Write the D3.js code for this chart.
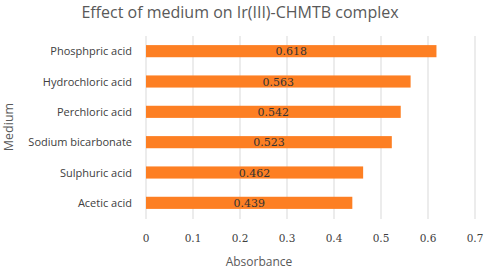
<!DOCTYPE html>
<html>
<head>
<meta charset="utf-8">
<script src="https://d3js.org/d3.v7.min.js"></script>
<style>
  body { margin: 0; background: #fff; }
  svg { display: block; }
</style>
</head>
<body>
<div id="chart"></div>
<script>
// data
const media = ["Phosphpric acid", "Hydrochloric acid", "Perchloric acid",
               "Sodium bicarbonate", "Sulphuric acid", "Acetic acid"];
const absorbance = [0.618, 0.563, 0.542, 0.523, 0.462, 0.439];
const xTicks = [0, 0.1, 0.2, 0.3, 0.4, 0.5, 0.6, 0.7];

const W = 484, H = 272;
const svg = d3.select("#chart").append("svg")
    .attr("width", W).attr("height", H);

const x = d3.scaleLinear().domain([0, 0.7]).range([146, 475]);
const y = d3.scaleBand().domain(media).range([36, 218]).paddingInner(0.6).paddingOuter(0.3);

// gridlines
svg.append("g").selectAll("line")
  .data(xTicks).enter().append("line")
    .attr("x1", d => x(d)).attr("x2", d => x(d))
    .attr("y1", 36).attr("y2", 219)
    .attr("stroke", "#d9d9d9").attr("stroke-width", 1);

// bars
svg.append("g").selectAll("rect")
  .data(media).enter().append("rect")
    .attr("x", x(0))
    .attr("y", (d) => y(d))
    .attr("width", (d, i) => x(absorbance[i]) - x(0))
    .attr("height", y.bandwidth())
    .attr("fill", "#fd7f23");

// value labels
svg.append("g").selectAll("text")
  .data(media).enter().append("text")
    .attr("x", (d, i) => (x(0) + x(absorbance[i])) / 2)
    .attr("y", d => y(d) + y.bandwidth() / 2 + 4)
    .attr("text-anchor", "middle")
    .style("font-family", "'DejaVu Serif', serif")
    .style("font-size", "11px")
    .attr("fill", "#333")
    .text((d, i) => absorbance[i]);

// category labels
svg.append("g").selectAll("text")
  .data(media).enter().append("text")
    .attr("x", 132)
    .attr("y", d => y(d) + y.bandwidth() / 2 + 4)
    .attr("text-anchor", "end")
    .style("font-family", "'Open Sans', sans-serif")
    .style("font-size", "11px")
    .attr("fill", "#404040")
    .text(d => d);

// x tick labels
svg.append("g").selectAll("text")
  .data(xTicks).enter().append("text")
    .attr("x", d => x(d))
    .attr("y", 242)
    .attr("text-anchor", "middle")
    .style("font-family", "'DejaVu Serif', serif")
    .style("font-size", "10.5px")
    .attr("fill", "#404040")
    .text(d => d);

// axis titles
svg.append("text")
    .attr("x", 259).attr("y", 266)
    .attr("text-anchor", "middle")
    .style("font-family", "'Open Sans', sans-serif")
    .style("font-size", "12px")
    .attr("fill", "#595959")
    .text("Absorbance");

svg.append("text")
    .attr("transform", "translate(13,127) rotate(-90)")
    .attr("text-anchor", "middle")
    .style("font-family", "'Open Sans', sans-serif")
    .style("font-size", "12.5px")
    .attr("fill", "#595959")
    .text("Medium");

// title
svg.append("text")
    .attr("x", 240).attr("y", 18)
    .attr("text-anchor", "middle")
    .style("font-family", "'Open Sans', sans-serif")
    .style("font-size", "16px")
    .attr("fill", "#595959")
    .text("Effect of medium on Ir(III)-CHMTB complex");
</script>
</body>
</html>
